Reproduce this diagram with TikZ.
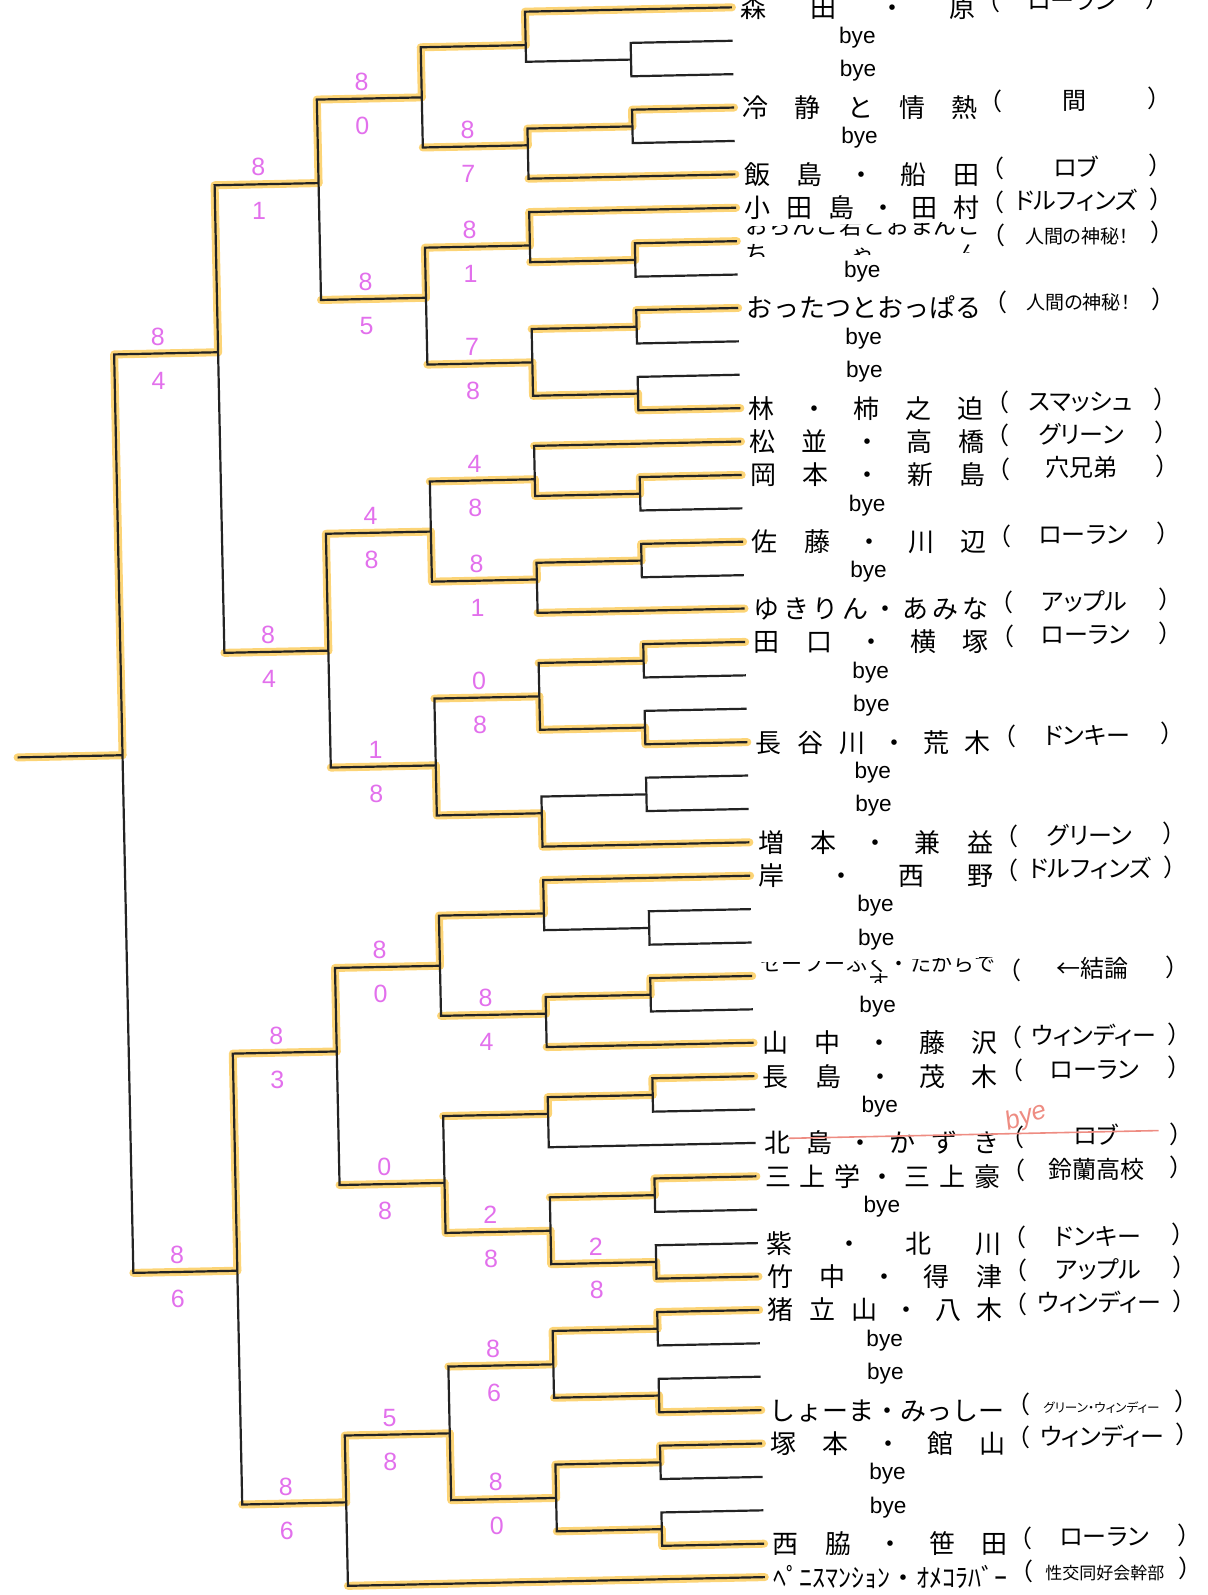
\documentclass[tikz,border=0pt]{standalone}
\usepackage{fontspec}
\newfontfamily\jp{Noto Sans CJK JP}
\newfontfamily\jpp[RawFeature=+palt]{Noto Sans CJK JP}
\newfontfamily\lat{Liberation Sans}
\definecolor{ink}{RGB}{35,35,35}
\definecolor{marker}{RGB}{252,212,118}
\definecolor{pen}{RGB}{226,112,236}
\definecolor{redpen}{RGB}{238,140,130}
\pgfdeclarelayer{back}
\pgfsetlayers{back,main}
\newcommand\spreadname[1]{\makebox[117.5pt][s]{\spaceskip=0pt plus 1fil\relax #1}}
\newcommand\club[2]{%
  \node[paren,anchor=base east] (l#1) at (1001,{rv(#1)+9}) {（};
  \node[tm] (t#1) at (1072,{rv(#1)+9}) {#2};
  \node[paren,anchor=base west] (r#1) at (1145,{rv(#1)+9}) {）};}
\newcommand\player[3]{%
  \node[nm] (n#1) at (740,{rv(#1)+10}) {\spreadname{#2}};
  \club{#1}{#3}}
\newcommand\bye[1]{\node[byetext] (n#1) at (838,{rv(#1)+5}) {bye};}
\begin{document}
\begin{tikzpicture}[x=0.5pt,y=-0.5pt,
  declare function={rv(\q)=7.5+(\q-1)*33.41;},
  wire/.style={draw=ink,line width=1.1pt},
  hl/.style={draw=marker,line width=4pt,line cap=round,line join=round},
  nm/.style={anchor=base west,inner sep=0pt,font=\jp\fontsize{13}{13}\selectfont},
  tm/.style={anchor=base,inner sep=0pt,font=\jpp\fontsize{12}{12}\selectfont},
  paren/.style={inner sep=0pt,font=\jp\fontsize{12}{12}\selectfont},
  byetext/.style={anchor=base west,inner sep=0pt,font=\lat\fontsize{11.3}{12}\selectfont},
  score/.style={inner sep=0pt,text=pen,font=\lat\fontsize{12.5}{13}\selectfont}]
\useasboundingbox (0,0) rectangle (1207,1595);
\begin{scope}[rotate around={1.2:(725,8)}]
\foreach \k in {1,...,48} \coordinate (p\k) at (732,{rv(\k)});
% first round
\foreach \k in {2,4,8,10,12,15,17,20,22,24,28,30,33,36,38,40,42,44,46}{
  \pgfmathtruncatemacro\j{\k+1}
  \coordinate (a\k) at (630,{rv(\k+0.5)});
  \draw[wire] (p\k) -| (a\k) |- (p\j);
}
% later rounds
\foreach \m/\a/\b/\u/\w in {b1/p1/a2/525/2, b2/a4/p6/525/5, b3/p7/a8/525/8,
  b4/a10/a12/525/11.5, b5/p14/a15/525/15, b6/a17/p19/525/18, b7/a20/a22/525/21.5,
  b8/a24/p26/525/25, b9/p27/a28/525/28, b10/a30/p32/525/31, b11/a33/p35/525/34,
  b12/a36/a38/525/37.5, b13/a40/a42/525/41.5, b14/a44/a46/525/45.5,
  c1/b1/b2/420/3.5, c2/b3/b4/420/9.5, c3/b5/b6/420/16.5, c4/b7/b8/420/23.5,
  c5/b9/b10/420/29.5, c6/b11/b12/420/36, c7/b13/b14/420/43.5,
  d1/c1/c2/315/6, d2/c3/c4/315/20, d3/c5/c6/315/32, d4/c7/p48/315/45.5,
  e1/d1/d2/211/11, e2/d3/d4/211/38.5, f/e1/e2/107/23}{
  \coordinate (\m) at (\u,{rv(\w)});
  \draw[wire] (\a) -| (\m) |- (\b);
}
\coordinate (champ) at (2,{rv(23)});
\draw[wire] (f) -- (champ);
% marker pen
\begin{pgfonlayer}{back}
\foreach \w/\m in {p4/a4, p8/a8, p10/a10, p13/a12, p15/a15, p17/a17, p20/a20,
  p23/a22, p30/a30, p33/a33, p36/a36, p39/a38, p40/a40, p43/a42, p44/a44, p47/a46,
  p1/b1, a4/b2, p7/b3, a12/b4, a15/b5, a17/b6, a22/b7, p26/b8, p27/b9, a30/b10,
  a33/b11, a38/b12, a40/b13, a44/b14, b1/c1, b3/c2, b6/c3, b8/c4, b9/c5, b12/c6,
  b14/c7, c1/d1, c3/d2, c5/d3, c7/d4, d1/e1, d3/e2, e1/f}
  \draw[hl] (\w) -| (\m);
\foreach \l/\m in {p6/b2, a8/b3, a10/b4, p14/b5, p19/b6, a20/b7, p32/b10, a36/b12,
  a42/b13, a46/b14, b2/c1, b4/c2, b5/c3, b7/c4, b10/c5, b11/c6, b13/c7, c2/d1,
  c4/d2, c6/d3, p48/d4, d2/e1, d4/e2, e2/f}
  \draw[hl] (\l) -- (\l -| \m);
\draw[hl] (f) -- (champ);
\end{pgfonlayer}
% scores
\foreach \m/\u/\w/\s/\t in {a38/630/38.5/2/8, b2/525/5/8/7, b3/525/8/8/1,
  b4/525/11.5/7/8, b5/525/15/4/8, b6/525/18/8/1, b7/525/21.5/0/8, b10/525/31/8/4,
  b12/525/37.5/2/8, b13/525/41.5/8/6, b14/525/45.5/8/0, c1/420/3.5/8/0,
  c2/420/9.5/8/5, c3/420/16.5/4/8, c4/420/23.5/1/8, c5/420/29.5/8/0,
  c6/420/36/0/8, c7/420/43.5/5/8, d1/315/6/8/1, d2/315/20/8/4, d3/315/32/8/3,
  d4/315/45.5/8/6, e1/211/11/8/4, e2/211/38.5/8/6}{
  \node[score] (\m hi) at ({\u-60},{rv(\w)-17}) {\s};
  \node[score] (\m lo) at ({\u-60},{rv(\w)+27}) {\t};
}
% entries
\player{1}{森 田 ・ 原}{ローラン}
\bye{2}\bye{3}
\player{4}{冷 静 と 情 熱}{間}
\bye{5}
\player{6}{飯 島 ・ 船 田}{ロブ}
\player{7}{小 田 島 ・ 田 村}{ドルフィンズ}
\begin{scope}
\clip (736,{rv(8)-15}) rectangle (985,{rv(8)+16});
\node[nm,font=\jp\fontsize{11.5}{12}\selectfont] (n8a) at (740,{rv(8)-6}) {\spreadname{お ら ん こ 若 と お ま ん こ}};
\node[nm,font=\jp\fontsize{11.5}{12}\selectfont] (n8b) at (740,{rv(8)+22}) {\spreadname{ち ゃ ん}};
\end{scope}
\club{8}{\fontsize{9.5}{10}\selectfont 人間の神秘！}
\bye{9}
\player{10}{お っ た つ と お っ ぱ る}{\fontsize{9.5}{10}\selectfont 人間の神秘！}
\bye{11}\bye{12}
\player{13}{林 ・ 柿 之 迫}{スマッシュ}
\player{14}{松 並 ・ 高 橋}{グリーン}
\player{15}{岡 本 ・ 新 島}{穴兄弟}
\bye{16}
\player{17}{佐 藤 ・ 川 辺}{ローラン}
\bye{18}
\player{19}{ゆ き り ん ・ あ み な}{アップル}
\player{20}{田 口 ・ 横 塚}{ローラン}
\bye{21}\bye{22}
\player{23}{長 谷 川 ・ 荒 木}{ドンキー}
\bye{24}\bye{25}
\player{26}{増 本 ・ 兼 益}{グリーン}
\player{27}{岸 ・ 西 野}{ドルフィンズ}
\bye{28}\bye{29}
\begin{scope}
\clip (736,{rv(30)-14}) rectangle (985,{rv(30)+9});
\node[nm,font=\jp\fontsize{10.5}{11}\selectfont] (n30a) at (740,{rv(30)-4}) {\spreadname{セ ー フ ー ふ く ・ た か ら で}};
\node[nm,anchor=base,font=\jp\fontsize{10.5}{11}\selectfont] (n30b) at (858,{rv(30)+17}) {す};
\end{scope}
\club{30}{←結論}
\bye{31}
\player{32}{山 中 ・ 藤 沢}{ウィンディー}
\player{33}{長 島 ・ 茂 木}{ローラン}
\bye{34}
\player{35}{北 島 ・ か ず き}{ロブ}
\draw[redpen,line width=0.8pt] (765,{rv(35)-4}) -- (1135,{rv(35)-4});
\node[text=redpen,rotate=18,font=\lat\itshape\fontsize{13}{13}\selectfont] (hand) at (1003,{rv(35)-20}) {bye};
\player{36}{三 上 学 ・ 三 上 豪}{鈴蘭高校}
\bye{37}
\player{38}{紫 ・ 北 川}{ドンキー}
\player{39}{竹 中 ・ 得 津}{アップル}
\player{40}{猪 立 山 ・ 八 木}{ウィンディー}
\bye{41}\bye{42}
\player{43}{し ょ ー ま ・ み っ し ー}{\fontsize{6.3}{7}\selectfont グリーン・ウィンディー}
\player{44}{塚 本 ・ 館 山}{ウィンディー}
\bye{45}\bye{46}
\player{47}{西 脇 ・ 笹 田}{ローラン}
\player{48}{ﾍﾟﾆｽﾏﾝｼｮﾝ・ｵﾒｺﾗﾊﾞｰ}{\fontsize{8.5}{9}\selectfont 性交同好会幹部}
\end{scope}
\end{tikzpicture}
\end{document}
